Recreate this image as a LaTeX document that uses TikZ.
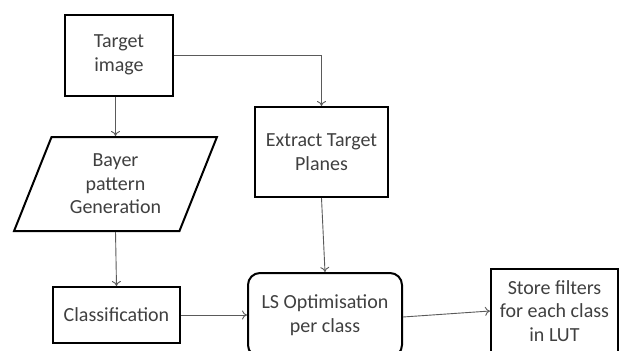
\documentclass[tikz,border=0pt]{standalone}
\usepackage{fontspec}
\setmainfont{Carlito}
\usetikzlibrary{shapes.geometric, arrows.meta}
\definecolor{txt}{HTML}{404040}
\definecolor{wire}{HTML}{5A5A5A}

\begin{document}
\begin{tikzpicture}[x=1pt, y=-1pt,
  box/.style={draw=black, line width=2pt, fill=white, text=txt, align=center,
    inner sep=0pt, font=\fontsize{20}{23.5}\selectfont},
  link/.style={draw=wire, line width=0.9pt, -{To[length=5pt,width=9pt]}}
]
\clip (0, 0) rectangle (625, 351);
\fill[white] (0, 0) rectangle (625, 351);
%\draw[help lines, step=50] (0, 0) grid (625, 351);

\node[box, minimum width=108, minimum height=81] (target) at (119, 55) {Target\\image};
\node[box, trapezium, trapezium stretches=true, trapezium left angle=66,
  trapezium right angle=114, minimum width=203, minimum height=94]
  (bayer) at (115.5, 184) {Bayer\\pattern\\Generation};
\node[box, minimum width=127, minimum height=56] (class) at (116.5, 315) {Classification};
\node[box, minimum width=133, minimum height=90] (extract) at (321.5, 152) {Extract Target\\Planes};
\node[box, rounded corners=12pt, minimum width=154, minimum height=84] (ls) at (325, 315) {LS Optimisation\\per class};
\node[box, minimum width=127, minimum height=84] (store) at (554.5, 311) {Store filters\\for each class\\in LUT};

\draw[link] (target.south -| bayer.north) -- (bayer.north);
\draw[link] (bayer.south) -- (class.north);
\draw[link] (target.east) -| (extract.north);
\draw[link] (extract.south) -- (ls.north);
\draw[link] (class.east) -- (ls.west);
\draw[link] ([yshift=-2]ls.east) -- (store.west);
\end{tikzpicture}
\end{document}
